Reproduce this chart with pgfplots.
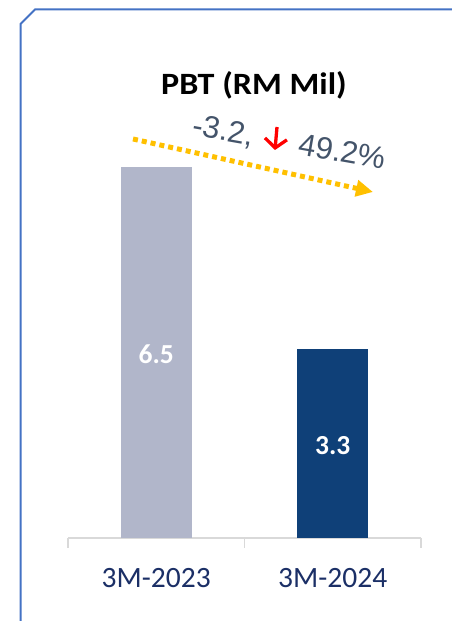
\documentclass[border=0pt]{standalone}
\usepackage{pgfplots}
\pgfplotsset{compat=1.18}
\usepackage{fontspec}
\setmainfont{Carlito}
\newfontfamily\arialfont{Liberation Sans}
\usetikzlibrary{arrows.meta}
\definecolor{barA}{HTML}{B1B6CA}
\definecolor{barB}{HTML}{0F4078}
\definecolor{catcol}{HTML}{1B2F66}
\definecolor{annot}{HTML}{44546A}
\definecolor{frameblue}{HTML}{4472C4}
\definecolor{tickgray}{HTML}{D9D9D9}
\definecolor{gold}{HTML}{FFC000}
\begin{document}
\begin{tikzpicture}
\useasboundingbox (0,0) rectangle (451pt,621pt);
% frame
\draw[frameblue, line width=2pt] (20.5pt,-2pt) -- (20.5pt,597pt) -- (35pt,611.5pt) -- (453pt,611.5pt);
\begin{axis}[
  at={(68pt,83pt)}, anchor=south west,
  scale only axis, width=353pt, height=457.2pt,
  xmin=-0.5, xmax=1.5, ymin=0, ymax=8,
  axis x line*=bottom, axis y line=none,
  x axis line style={draw=tickgray, line width=1.5pt},
  ytick=\empty,
  xtick={0,1}, xticklabels={3M-2023,3M-2024},
  major tick length=0pt,
  xticklabel style={anchor=base, yshift=-49pt, font=\fontsize{29.5}{31}\selectfont, text=catcol},
  ybar, bar width=71pt, bar shift=0pt,
  clip=false,
]
\addplot[fill=barA, draw=none] coordinates {(0,6.5)};
\addplot[fill=barB, draw=none] coordinates {(1,3.3)};
\addplot[draw=none, fill=none, forget plot, point meta=explicit symbolic,
  nodes near coords, every node near coord/.append style={anchor=center, text=white, font=\bfseries\fontsize{27.5}{30}\selectfont}]
  coordinates {(0,3.22)[6.5] (1,1.62)[3.3]};
\draw[tickgray, line width=1.5pt] (axis cs:-0.5,0) -- ([yshift=-10pt]axis cs:-0.5,0);
\draw[tickgray, line width=1.5pt] (axis cs:0.5,0) -- ([yshift=-10pt]axis cs:0.5,0);
\draw[tickgray, line width=1.5pt] (axis cs:1.5,0) -- ([yshift=-10pt]axis cs:1.5,0);
\end{axis}
% title
\node[font=\bfseries\fontsize{31}{33}\selectfont, xscale=1.1] at (254pt,536pt) {PBT (RM Mil)};
% trend arrow
\draw[gold, line width=5pt, dash pattern=on 5pt off 4pt, -{Triangle[length=17pt,width=16pt]}] (133pt,482pt) -- (373pt,429pt);
% annotation
\node[anchor=base west, rotate=-10, inner sep=0pt, text=annot, font=\arialfont\fontsize{31}{32}\selectfont] at (191pt,486pt) {-3.2,};
\node[anchor=base west, rotate=-10, inner sep=0pt, text=annot, font=\arialfont\fontsize{31}{32}\selectfont] at (297pt,467pt) {49.2\%};
\draw[red, line width=3.3pt, -{Straight Barb[length=9pt,width=22pt]}] (277pt,494pt) -- (275pt,471pt);
\end{tikzpicture}
\end{document}
